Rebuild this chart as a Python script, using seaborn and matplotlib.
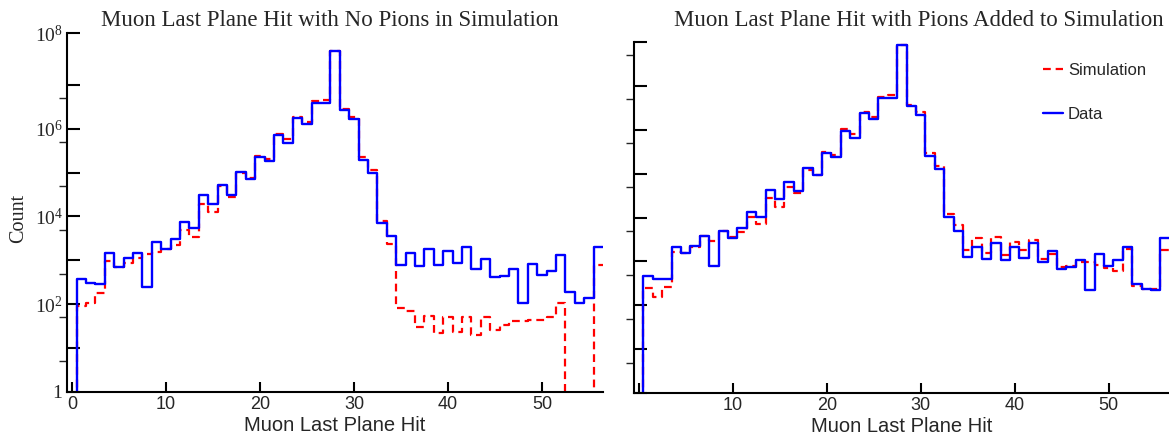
import numpy as np
import seaborn as sns
import matplotlib.pyplot as plt
from matplotlib.lines import Line2D
from matplotlib.ticker import FixedLocator, NullFormatter

# bins: last plane hit 0..56
planes = np.arange(0, 57)
edges = list(np.arange(-0.5, 57.0, 1.0))

# left panel: no pions in simulation
data_left = [0, 369, 299, 284, 1442, 703, 1127, 1442, 251, 2655,
             1807, 3055, 7447, 5534, 31260, 19500, 51050, 31260, 104500, 69980,
             229100, 182800, 714500, 462400, 1714000, 1274000, 3890000, 3890000, 59570000, 2655000,
             1629000, 192800, 99100, 7194, 3581, 782, 1493, 741, 1841, 769,
             1656, 853, 1977, 644, 1089, 409, 447, 624, 108, 824,
             455, 581, 1297, 187, 108, 141, 2042]
sim_left = [0, 91, 105, 177, 964, 692, 883, 1109, 1393, 1570,
            1807, 2234, 4898, 3451, 18840, 12790, 48980, 27230, 95500, 76210,
            237700, 203200, 753400, 570200, 1807000, 1413000, 4256000, 4477000, 59570000, 2754000,
            1866000, 229100, 114000, 7980, 2350, 80.5, 71.1, 30.8, 54.7, 21.7,
            50.2, 23.7, 50.2, 19.9, 50.2, 25.8, 33.6, 41.4, 42.1, 43.7,
            43.7, 51.9, 105, 0, 0, 0, 782]

# right panel: pions added to simulation
data_right = [0, 470, 393, 406, 2168, 1585, 2265, 3864, 789, 5058,
              3365, 5861, 13550, 10090, 42270, 25940, 65310, 40740, 135800, 92680,
              297800, 234400, 944100, 633900, 2427000, 1714000, 5152000, 5152000, 84140000, 3467000,
              2168000, 255300, 127100, 10090, 5012, 1285, 2168, 1117, 2673, 1079,
              2168, 1197, 2582, 989, 1758, 679, 760, 1072, 224, 1452,
              794, 1086, 2080, 299, 234, 224, 3365]
sim_right = [0, 245, 155, 263, 1641, 1549, 2080, 3793, 2965, 4898,
             3597, 4571, 10090, 6998, 27350, 17620, 50230, 36640, 120500, 92680,
             314100, 264200, 1014000, 781600, 2553000, 1905000, 5610000, 6124000, 84140000, 3631000,
             2553000, 297800, 151000, 11830, 6745, 1824, 3365, 1585, 3656, 1380,
             2818, 1824, 3076, 1122, 1514, 759, 794, 955, 955, 832,
             698, 617, 1888, 276, 232, 236, 1820]

x_ticks = [0, 10, 20, 30, 40, 50]
titles = ["Muon Last Plane Hit with No Pions in Simulation",
          "Muon Last Plane Hit with Pions Added to Simulation"]

sns.set_theme(style="ticks")
plt.rcParams["font.family"] = ["Liberation Sans", "DejaVu Sans"]
plt.rcParams["mathtext.fontset"] = "custom"
plt.rcParams["mathtext.rm"] = "Liberation Serif"
plt.rcParams["mathtext.it"] = "Liberation Serif:italic"
serif = ["Liberation Serif", "DejaVu Serif"]

W, H = 1169, 437
fig = plt.figure(figsize=(W / 100, H / 100), dpi=100)
ax1 = fig.add_axes([67.3 / W, (H - 392) / H, 535.7 / W, 359 / H])
ax2 = fig.add_axes([634 / W, (H - 393.3) / H, 535.8 / W, 351.6 / H])

red_kw = dict(color="#ff0000", linewidth=1.6, dashes=(3.5, 2.2))
blue_kw = dict(color="#0000ff", linewidth=1.7)

for ax, sim, dat in [(ax1, sim_left, data_left), (ax2, sim_right, data_right)]:
    sns.histplot(x=planes, weights=sim, bins=edges, element="step", fill=False, ax=ax, **red_kw)
    sns.histplot(x=planes, weights=dat, bins=edges, element="step", fill=False, ax=ax, **blue_kw)
    ax.set_yscale("log")
    ax.set_xlim(-0.5, 56.5)
    ax.set_xlabel("")
    ax.set_ylabel("")
    sns.despine(ax=ax)
    for s in ["left", "bottom"]:
        ax.spines[s].set_linewidth(1.5)
        ax.spines[s].set_color("black")
    ax.set_xticks(x_ticks)
    ax.tick_params(axis="both", direction="in", width=1.5, color="black")
    ax.tick_params(axis="x", which="major", length=7.5, pad=3, labelsize=13)
    ax.tick_params(axis="x", which="minor", length=0)
    ax.tick_params(axis="y", which="major", length=9.5, pad=3)
    ax.tick_params(axis="y", which="minor", length=5.5)
    ax.yaxis.set_minor_formatter(NullFormatter())

# left y axis
top_left = 10 ** (359 / 43.9)
ax1.set_ylim(1, top_left)
ax1.yaxis.set_major_locator(FixedLocator([1, 1e1, 1e2, 1e3, 1e4, 1e5, 1e6, 1e7, top_left]))
ax1.set_yticklabels(["$1$", "", "$10^{2}$", "", "$10^{4}$", "", "$10^{6}$", "", "$10^{8}$"],
                    fontsize=14)
ax1.yaxis.set_minor_locator(FixedLocator([5 * 10 ** k for k in range(0, 7)]))
ax1.set_xticklabels([str(t) for t in x_ticks])

# right y axis
ax2.set_ylim(1, 1e8)
ax2.yaxis.set_major_locator(FixedLocator([10 ** k for k in range(0, 9)]))
ax2.set_yticklabels([])
ax2.yaxis.set_minor_locator(FixedLocator([5 * 10 ** k for k in range(0, 8)]))
ax2.set_xticklabels([""] + [str(t) for t in x_ticks[1:]])

for ax in (ax1, ax2):
    ax.set_xlabel("Muon Last Plane Hit", fontsize=14.5, labelpad=2)

fig.text(330 / W, 1 - 20 / H, titles[0], ha="center", va="center", fontsize=16.5, family=serif)
fig.text(919 / W, 1 - 20 / H, titles[1], ha="center", va="center", fontsize=16.5, family=serif)
fig.text(19 / W, 1 - 218 / H, "Count", rotation=90, ha="center", va="center", fontsize=14.5, family=serif)

handles = [Line2D([], [], **red_kw), Line2D([], [], **blue_kw)]
ax2.legend(handles, ["Simulation", "Data"], loc="upper left", bbox_to_anchor=(0.763, 0.94),
           frameon=False, fontsize=12, handlelength=1.2, handletextpad=0.3,
           labelspacing=1.75, borderpad=0, borderaxespad=0)

fig.savefig("out.png", dpi=100)
